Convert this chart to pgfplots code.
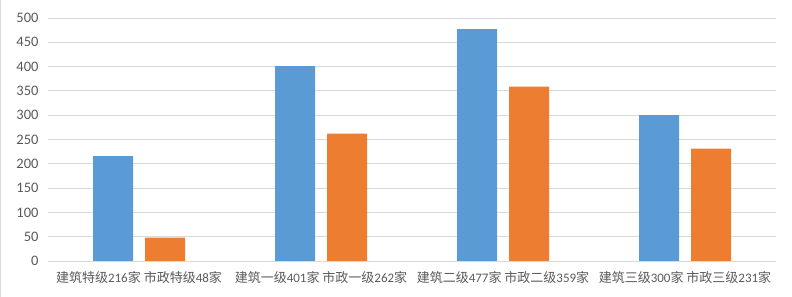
\documentclass[border=0pt]{standalone}
\usepackage{fontspec}
\usepackage{pgfplots}
\pgfplotsset{compat=1.18}
\setmainfont{Carlito}
\newfontfamily\cjk{Noto Sans CJK SC}
\definecolor{cblue}{HTML}{5B9BD5}
\definecolor{corange}{HTML}{ED7D31}
\definecolor{gridc}{HTML}{D9D9D9}
\definecolor{txt}{HTML}{595959}
\begin{document}
\begin{tikzpicture}
\path[use as bounding box] (0,0) rectangle (792pt,297pt);
\draw[gridc, line width=0.8pt] (0.4pt,0) -- (0.4pt,297pt);
\begin{axis}[
  at={(48pt,36pt)}, anchor=south west,
  scale only axis, width=728pt, height=243pt,
  xmin=-0.5, xmax=3.5, ymin=0, ymax=500,
  ytick={0,50,...,500},
  xtick={0,1,2,3},
  xticklabels={
    {{\cjk 建筑特级}216{\cjk 家} {\cjk 市政特级}48{\cjk 家}},
    {{\cjk 建筑一级}401{\cjk 家} {\cjk 市政一级}262{\cjk 家}},
    {{\cjk 建筑二级}477{\cjk 家} {\cjk 市政二级}359{\cjk 家}},
    {{\cjk 建筑三级}300{\cjk 家} {\cjk 市政三级}231{\cjk 家}}},
  /pgf/number format/assume math mode=true,
  yticklabel style={font=\fontsize{14.5}{14.5}\selectfont, text=txt, xshift=-6pt},
  xticklabel style={font=\fontsize{13}{13}\selectfont, text=txt, yshift=-7pt},
  major tick length=0pt,
  ymajorgrids, xmajorgrids=false,
  y grid style={gridc, line width=0.9pt},
  axis line style={draw=none},
  tick style={draw=none},
  ybar, bar width=40pt,
]
\addplot[fill=cblue, draw=none, bar shift=-26pt] coordinates {(0,216) (1,401) (2,477) (3,300)};
\addplot[fill=corange, draw=none, bar shift=26pt] coordinates {(0,48) (1,262) (2,359) (3,231)};
\end{axis}
\end{tikzpicture}
\end{document}
